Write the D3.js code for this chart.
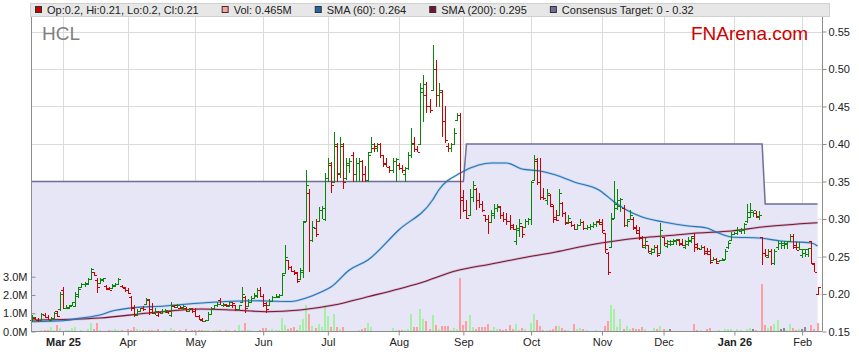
<!DOCTYPE html>
<html><head><meta charset="utf-8">
<script src="https://cdnjs.cloudflare.com/ajax/libs/d3/7.8.5/d3.min.js"></script>
<style>body{margin:0;background:#fff;} svg{display:block;font-family:"Liberation Sans",Arial,sans-serif;}</style>
</head><body><svg id="c" width="859" height="363"></svg>
<script>
// ---------------- DATA ----------------
const opens = [
.166,.168,.166,.166,.172,.170,.166,.168,.177,.180,
.205,.182,.181,.186,.184,.200,.209,.213,.214,.220,
.229,.219,.215,.219,.211,.208,.208,.211,.214,.211,
.208,.206,.196,.183,.172,.177,.181,.187,.192,.180,
.176,.172,.175,.177,.176,.172,.184,.183,.182,.181,
.182,.178,.180,.177,.171,.167,.164,.165,.174,.182,
.185,.192,.186,.185,.184,.186,.185,.180,.189,.196,
.184,.190,.195,.198,.205,.198,.188,.185,.191,.196,
.196,.199,.228,.245,.236,.231,.229,.220,.230,.298,
.335,.272,.288,.298,.312,.300,.355,.372,.350,.398,
.362,.398,.355,.372,.385,.360,.375,.378,.360,.352,
.389,.395,.395,.400,.385,.374,.370,.365,.378,.372,
.368,.360,.368,.385,.402,.393,.400,.470,.465,.450,
.472,.500,.465,.470,.430,.398,.395,.400,.432,.438,
.330,.312,.305,.330,.340,.325,.320,.305,.300,.296,
.305,.315,.316,.305,.300,.298,.292,.270,.285,.291,
.290,.298,.300,.352,.378,.350,.330,.325,.332,.318,
.303,.305,.322,.308,.296,.296,.292,.287,.292,.296,
.288,.290,.291,.293,.298,.296,.281,.255,.262,.302,
.320,.318,.315,.292,.300,.300,.290,.286,.275,.262,
.265,.255,.256,.262,.255,.276,.264,.266,.267,.270,
.272,.268,.262,.266,.270,.278,.266,.260,.262,.258,
.258,.245,.247,.244,.246,.247,.262,.272,.280,.281,
.284,.285,.297,.303,.310,.308,.303,.276,.255,.250,
.258,.242,.262,.268,.265,.266,.270,.278,.265,.262,
.252,.255,.254,.270,.240,.200];
const highs = [
.172,.170,.168,.175,.175,.172,.170,.176,.178,.203,
.210,.186,.185,.190,.203,.209,.215,.216,.221,.235,
.230,.221,.221,.222,.212,.210,.213,.215,.222,.212,
.209,.208,.198,.186,.180,.182,.184,.195,.193,.188,
.182,.178,.180,.180,.178,.189,.186,.187,.184,.185,
.183,.182,.181,.181,.172,.168,.166,.176,.183,.186,
.189,.195,.188,.187,.190,.189,.186,.186,.209,.197,
.193,.197,.201,.208,.209,.200,.189,.193,.197,.200,
.200,.228,.265,.246,.237,.232,.230,.235,.298,.365,
.340,.298,.300,.316,.318,.362,.381,.376,.416,.401,
.410,.401,.381,.381,.389,.381,.381,.379,.371,.389,
.410,.401,.401,.401,.386,.381,.371,.381,.381,.375,
.372,.369,.390,.421,.410,.397,.481,.492,.483,.460,
.532,.512,.481,.472,.451,.401,.401,.421,.441,.441,
.339,.325,.340,.351,.342,.335,.324,.306,.305,.312,
.320,.320,.317,.309,.308,.305,.293,.292,.300,.291,
.300,.301,.351,.385,.381,.381,.342,.340,.333,.319,
.312,.340,.323,.309,.305,.297,.293,.294,.300,.297,
.292,.293,.296,.297,.300,.300,.282,.256,.308,.351,
.340,.328,.319,.300,.312,.303,.292,.289,.277,.275,
.265,.261,.265,.265,.295,.276,.272,.272,.274,.274,
.274,.274,.272,.276,.277,.281,.268,.265,.264,.261,
.260,.249,.248,.246,.248,.260,.271,.283,.283,.289,
.288,.295,.320,.321,.311,.311,.311,.276,.260,.260,
.260,.260,.271,.271,.271,.271,.280,.280,.270,.270,
.260,.260,.261,.271,.241,.210];
const lows = [
.163,.165,.163,.165,.168,.165,.164,.167,.170,.178,
.180,.180,.180,.185,.183,.195,.208,.210,.212,.219,
.224,.201,.214,.216,.205,.205,.207,.209,.212,.208,
.203,.200,.178,.170,.171,.176,.178,.186,.172,.174,
.172,.169,.174,.175,.174,.169,.181,.182,.180,.179,
.176,.176,.175,.169,.165,.163,.163,.164,.172,.180,
.183,.185,.183,.183,.183,.182,.178,.178,.188,.175,
.183,.189,.193,.195,.196,.183,.175,.184,.190,.195,
.195,.199,.228,.232,.229,.226,.215,.219,.221,.298,
.229,.269,.276,.298,.300,.298,.350,.335,.349,.349,
.355,.340,.352,.361,.349,.350,.350,.349,.349,.349,
.389,.389,.389,.381,.369,.369,.361,.361,.349,.365,
.361,.349,.365,.381,.389,.389,.400,.430,.441,.441,
.472,.449,.449,.409,.401,.389,.389,.399,.431,.300,
.309,.300,.304,.323,.312,.315,.309,.296,.280,.295,
.300,.309,.300,.296,.292,.285,.285,.265,.276,.275,
.289,.292,.292,.351,.345,.325,.325,.319,.316,.295,
.298,.304,.303,.292,.294,.289,.285,.286,.291,.285,
.285,.286,.288,.290,.292,.281,.255,.225,.261,.301,
.312,.309,.289,.289,.300,.285,.280,.272,.261,.260,
.255,.252,.255,.249,.255,.264,.261,.264,.266,.266,
.264,.264,.260,.264,.268,.256,.259,.259,.252,.252,
.240,.245,.240,.244,.244,.247,.260,.272,.279,.279,
.280,.280,.295,.301,.303,.301,.299,.239,.249,.248,
.239,.239,.259,.260,.260,.260,.269,.260,.259,.259,
.248,.249,.249,.240,.230,.200];
const closes = [
.169,.166,.165,.173,.170,.166,.168,.175,.171,.200,
.182,.183,.184,.189,.198,.207,.214,.215,.220,.233,
.226,.210,.220,.221,.207,.206,.212,.214,.220,.209,
.205,.202,.182,.172,.178,.181,.180,.193,.176,.175,
.178,.176,.178,.179,.177,.186,.185,.186,.183,.184,
.178,.181,.177,.171,.166,.164,.165,.174,.182,.185,
.187,.186,.187,.186,.189,.188,.180,.185,.200,.181,
.190,.195,.199,.205,.198,.186,.180,.191,.196,.198,
.199,.225,.250,.236,.231,.228,.218,.232,.296,.345,
.272,.290,.280,.312,.315,.355,.375,.345,.400,.360,
.400,.350,.375,.378,.360,.375,.378,.360,.352,.385,
.400,.398,.400,.385,.375,.370,.365,.378,.380,.368,
.365,.368,.385,.400,.393,.390,.475,.480,.450,.445,
.500,.465,.472,.430,.405,.395,.400,.415,.438,.325,
.312,.302,.330,.345,.325,.320,.312,.300,.296,.308,
.315,.318,.305,.300,.298,.290,.287,.288,.295,.280,
.298,.300,.350,.380,.350,.330,.328,.335,.320,.300,
.299,.335,.308,.295,.302,.292,.287,.292,.296,.288,
.290,.291,.294,.296,.293,.285,.260,.230,.300,.315,
.325,.327,.292,.297,.305,.288,.282,.276,.265,.270,
.258,.260,.262,.252,.285,.268,.270,.270,.272,.273,
.266,.265,.270,.272,.275,.262,.261,.263,.255,.253,
.243,.247,.242,.245,.245,.258,.268,.280,.282,.286,
.287,.293,.310,.312,.312,.304,.305,.255,.252,.258,
.242,.258,.268,.268,.268,.270,.278,.262,.259,.260,
.260,.260,.261,.242,.230,.210];
// volume in millions
const volumes = [
.05,.04,.05,.06,.08,.10,.27,.10,.36,.18,
.05,.06,.10,.18,.27,.05,.06,.05,.12,.49,
.13,.49,.08,.05,.05,.06,.08,.15,.06,.08,
.05,.15,.10,.27,.15,.06,.08,.07,.06,.10,
.06,.13,.05,.06,.05,.18,.06,.05,.06,.05,
.13,.05,.06,.08,.08,.06,.08,.10,.05,.08,
.06,.08,.05,.06,.08,.05,.06,.36,.10,.45,
.08,.06,.05,.05,.10,.18,.18,.08,.15,.06,
.08,.73,.36,.13,.18,.24,.10,.36,.67,1.46,
.97,.31,.18,.42,.24,1.33,.86,.27,.97,.27,
.15,.24,.04,.05,.05,.05,.09,.13,.18,.49,
.27,.05,.04,.05,.05,.05,.05,.18,.06,.09,
.09,.09,.15,.97,.22,.22,1.24,.69,.55,.15,
.91,.36,.15,.31,.31,.31,.09,.18,.13,2.95,
.36,.60,.91,.22,.15,.22,.24,.24,.42,.10,
.22,.15,.13,.10,.15,.36,.13,.42,.09,.18,
.15,.05,.49,.97,.64,.31,.09,.09,.09,.15,
.31,.31,.18,.09,.09,.05,.42,.13,.18,.15,
.09,.05,.05,.06,.05,.05,.30,.55,1.46,1.24,
.27,.69,.15,.31,.15,.18,.13,.15,.24,.15,
.05,.05,.18,.15,.31,.15,.09,.15,.05,.05,
.04,.05,.05,.05,.05,.42,.09,.09,.05,.15,
.18,.05,.05,.06,.05,.15,.13,.15,.05,.15,
.09,.05,.13,.20,.13,.09,.05,2.6,.36,.18,
.31,.42,.64,.13,.20,.09,.42,.18,.09,.15,
.15,.24,.05,.36,.13,.465];
// moving averages (bar index, value)
const sma60Idx = [0,10,16,22,26,32,43,55,71,76,84,89,94,97,103,109,119,130,132,139,145,149,154,159,165,170,176,184,189,193,198,205,213,219,222,227,236,243,253,255];
const sma60Val = [.163,.1644,.168,.172,.1773,.1813,.184,.188,.191,.1907,.190,.1947,.203,.2093,.232,.2453,.2853,.3253,.3387,.3613,.372,.3747,.3747,.3667,.364,.3587,.3493,.3387,.3227,.312,.3027,.296,.2907,.288,.2827,.276,.2747,.2707,.268,.264];
const sma200Idx = [0,22,38,55,65,76,87,98,109,119,126,138,149,159,170,181,197,205,216,227,237,255];
const sma200Val = [.1653,.168,.1747,.18,.1787,.1764,.1787,.1853,.1964,.2067,.2147,.2313,.24,.248,.256,.2653,.2747,.2773,.2813,.284,.2893,.295];
// consensus target (bar index, value)
const targetIdx = [0,140,141,237,238,255];
const targetVal = [0.35,0.35,0.40,0.40,0.32,0.32];
// axes
const monthTickIdx = [10,31,53,75,96,119,140,162,185,205,228,250];
const monthTickLabels = ["Mar 25","Apr","May","Jun","Jul","Aug","Sep","Oct","Nov","Dec","Jan 26","Feb"];
const boldLabels = ["Mar 25","Jan 26"];
const priceTicks = [0.15,0.20,0.25,0.30,0.35,0.40,0.45,0.50,0.55];
const volTicks = [0,1,2,3];
const ticker = "HCL";
const brand = "FNArena.com";

// ---------------- LAYOUT ----------------
const L = 31, R = 822, T = 17, B = 331.5;
const N = closes.length;
const svg = d3.select('#c');
const x = d3.scaleLinear().domain([-0.39, 256.44]).range([L, R]);
const y = d3.scaleLinear().domain([0.15, 0.55]).range([B, 31.5]);
const yv = d3.scaleLinear().domain([0, 3]).range([B, 276.7]);
const px = v => Math.round(v) + 0.5;

svg.append('rect').attr('width',859).attr('height',363).attr('fill','#fff');

// grid
const grid = svg.append('g').attr('stroke','#dadada').attr('stroke-width',1).attr('shape-rendering','crispEdges');
priceTicks.filter(d=>d>0.15).forEach(d=>{
  grid.append('line').attr('x1',L).attr('x2',R).attr('y1',px(y(d))).attr('y2',px(y(d)));
});
monthTickIdx.forEach(d=>{
  grid.append('line').attr('x1',px(x(d))).attr('x2',px(x(d))).attr('y1',T).attr('y2',B);
});

// consensus target area
const tgt = targetIdx.map((d,i)=>({i:d,v:targetVal[i]}));
const tx = d => d.i === targetIdx[0] ? x.domain()[0] : d.i;
svg.append('path').datum(tgt)
  .attr('d', d3.area().x(d=>x(tx(d))).y0(B).y1(d=>y(d.v)))
  .attr('fill','#e6e6f6');
svg.append('path').datum(tgt)
  .attr('d', d3.line().x(d=>x(tx(d))).y(d=>y(d.v)))
  .attr('fill','none').attr('stroke','#6e6e9c').attr('stroke-width',1.5);

// volume
const volColor = i => {
  if (i === 0) return '#a6f0a6';
  if (closes[i] > closes[i-1]) return '#a6f0a6';
  if (closes[i] < closes[i-1]) return '#ff9f9f';
  return '#8a8a8a';
};
svg.append('g').attr('shape-rendering','crispEdges').selectAll('rect').data(volumes).join('rect')
  .attr('x',(d,i)=>Math.round(x(i))-1).attr('width',2)
  .attr('y',d=>yv(d)).attr('height',d=>B-yv(d))
  .attr('fill',(d,i)=>volColor(i));

// SMAs
const smaLine = d3.line().x(d=>x(d[0])).y(d=>y(d[1])).curve(d3.curveMonotoneX);
function drawSma(idx, val, col){
  const pts = idx.map((d,i)=>[d,val[i]]);
  svg.append('path').datum(pts).attr('d',smaLine).attr('fill','none')
    .attr('stroke',col).attr('stroke-opacity',0.22).attr('stroke-width',2.4);
  svg.append('path').datum(pts).attr('d',smaLine).attr('fill','none')
    .attr('stroke',col).attr('stroke-width',1.1);
}
drawSma(sma200Idx, sma200Val, '#7b1638');
drawSma(sma60Idx, sma60Val, '#2277bb');

// OHLC bars
const barColor = i => (i>0 && closes[i] < closes[i-1]) ? '#cc0000' : '#0a850a';
const bars = svg.append('g').attr('shape-rendering','crispEdges').attr('stroke-width',1);
d3.range(N).forEach(i=>{
  const xc = Math.round(x(i)) + 0.5;
  const g = bars.append('g').attr('stroke', barColor(i));
  g.append('line').attr('x1',xc).attr('x2',xc).attr('y1',y(highs[i])).attr('y2',Math.max(y(lows[i]), y(highs[i])+1));
  g.append('line').attr('x1',xc-2.5).attr('x2',xc).attr('y1',px(y(opens[i]))).attr('y2',px(y(opens[i])));
  g.append('line').attr('x1',xc).attr('x2',xc+2.5).attr('y1',px(y(closes[i]))).attr('y2',px(y(closes[i])));
});

// axes
const axisCol = '#8c8c8c';
svg.append('line').attr('x1',R+0.5).attr('x2',R+0.5).attr('y1',T).attr('y2',B).attr('stroke',axisCol);
svg.append('line').attr('x1',L+0.5).attr('x2',L+0.5).attr('y1',T).attr('y2',B).attr('stroke',axisCol);
svg.append('line').attr('x1',L).attr('x2',R).attr('y1',B).attr('y2',B).attr('stroke',axisCol);

const ra = svg.append('g').attr('transform',`translate(${R+0.5},0)`)
  .call(d3.axisRight(y).tickValues(priceTicks).tickFormat(d3.format('.2f')).tickSize(4).tickPadding(2));
const la = svg.append('g').attr('transform',`translate(${L+0.5},0)`)
  .call(d3.axisLeft(yv).tickValues(volTicks).tickFormat(d=>d.toFixed(1)+'M').tickSize(-4).tickPadding(4));
const ba = svg.append('g').attr('transform',`translate(0,${B})`)
  .call(d3.axisBottom(x).tickValues(monthTickIdx).tickFormat((d,i)=>monthTickLabels[i]).tickSize(4).tickPadding(3));
[ra,la,ba].forEach(a=>{
  a.select('.domain').remove();
  a.selectAll('line').attr('stroke',axisCol);
  a.selectAll('text').attr('fill','#222').style('font-size','11px').style('font-family','"Liberation Sans",Arial,sans-serif');
});
ba.selectAll('text').style('font-weight',d=>boldLabels.includes(monthTickLabels[monthTickIdx.indexOf(d)])?'bold':'normal');

// legend
svg.append('rect').attr('x',30.5).attr('y',3.5).attr('width',799).attr('height',13)
  .attr('fill','#e7e7e7').attr('stroke','#d0d0d0');
const f = v => String(+v);
const legendItems = [
  {t:`Op:${f(opens[N-1])}, Hi:${f(highs[N-1])}, Lo:${f(lows[N-1])}, Cl:${f(closes[N-1])}`, c:'#cc0000'},
  {t:`Vol: ${f(volumes[N-1])}M`, c:'#ff9f9f'},
  {t:`SMA (60): ${f(sma60Val[sma60Val.length-1])}`, c:'#1f66a8'},
  {t:`SMA (200): ${f(sma200Val[sma200Val.length-1])}`, c:'#7b1034'},
  {t:`Consensus Target: 0 - ${f(targetVal[targetVal.length-1])}`, c:'#6e6e9c'}
];
let cx = 35;
legendItems.forEach(it=>{
  svg.append('rect').attr('x',cx+0.5).attr('y',6.5).attr('width',6).attr('height',6)
    .attr('fill',it.c).attr('stroke','#333').attr('stroke-width',1);
  const tt = svg.append('text').attr('x',cx+12).attr('y',14.3).text(it.t)
    .style('font-size','11px').attr('fill','#222');
  cx = cx + 12 + tt.node().getComputedTextLength() + 23;
});

// titles
svg.append('text').attr('x',42).attr('y',40).text(ticker).style('font-size','19px').attr('fill','#7f7f7f');
svg.append('text').attr('x',691).attr('y',39.5).text(brand).style('font-size','19px').attr('fill','#cc0000');
</script></body></html>
